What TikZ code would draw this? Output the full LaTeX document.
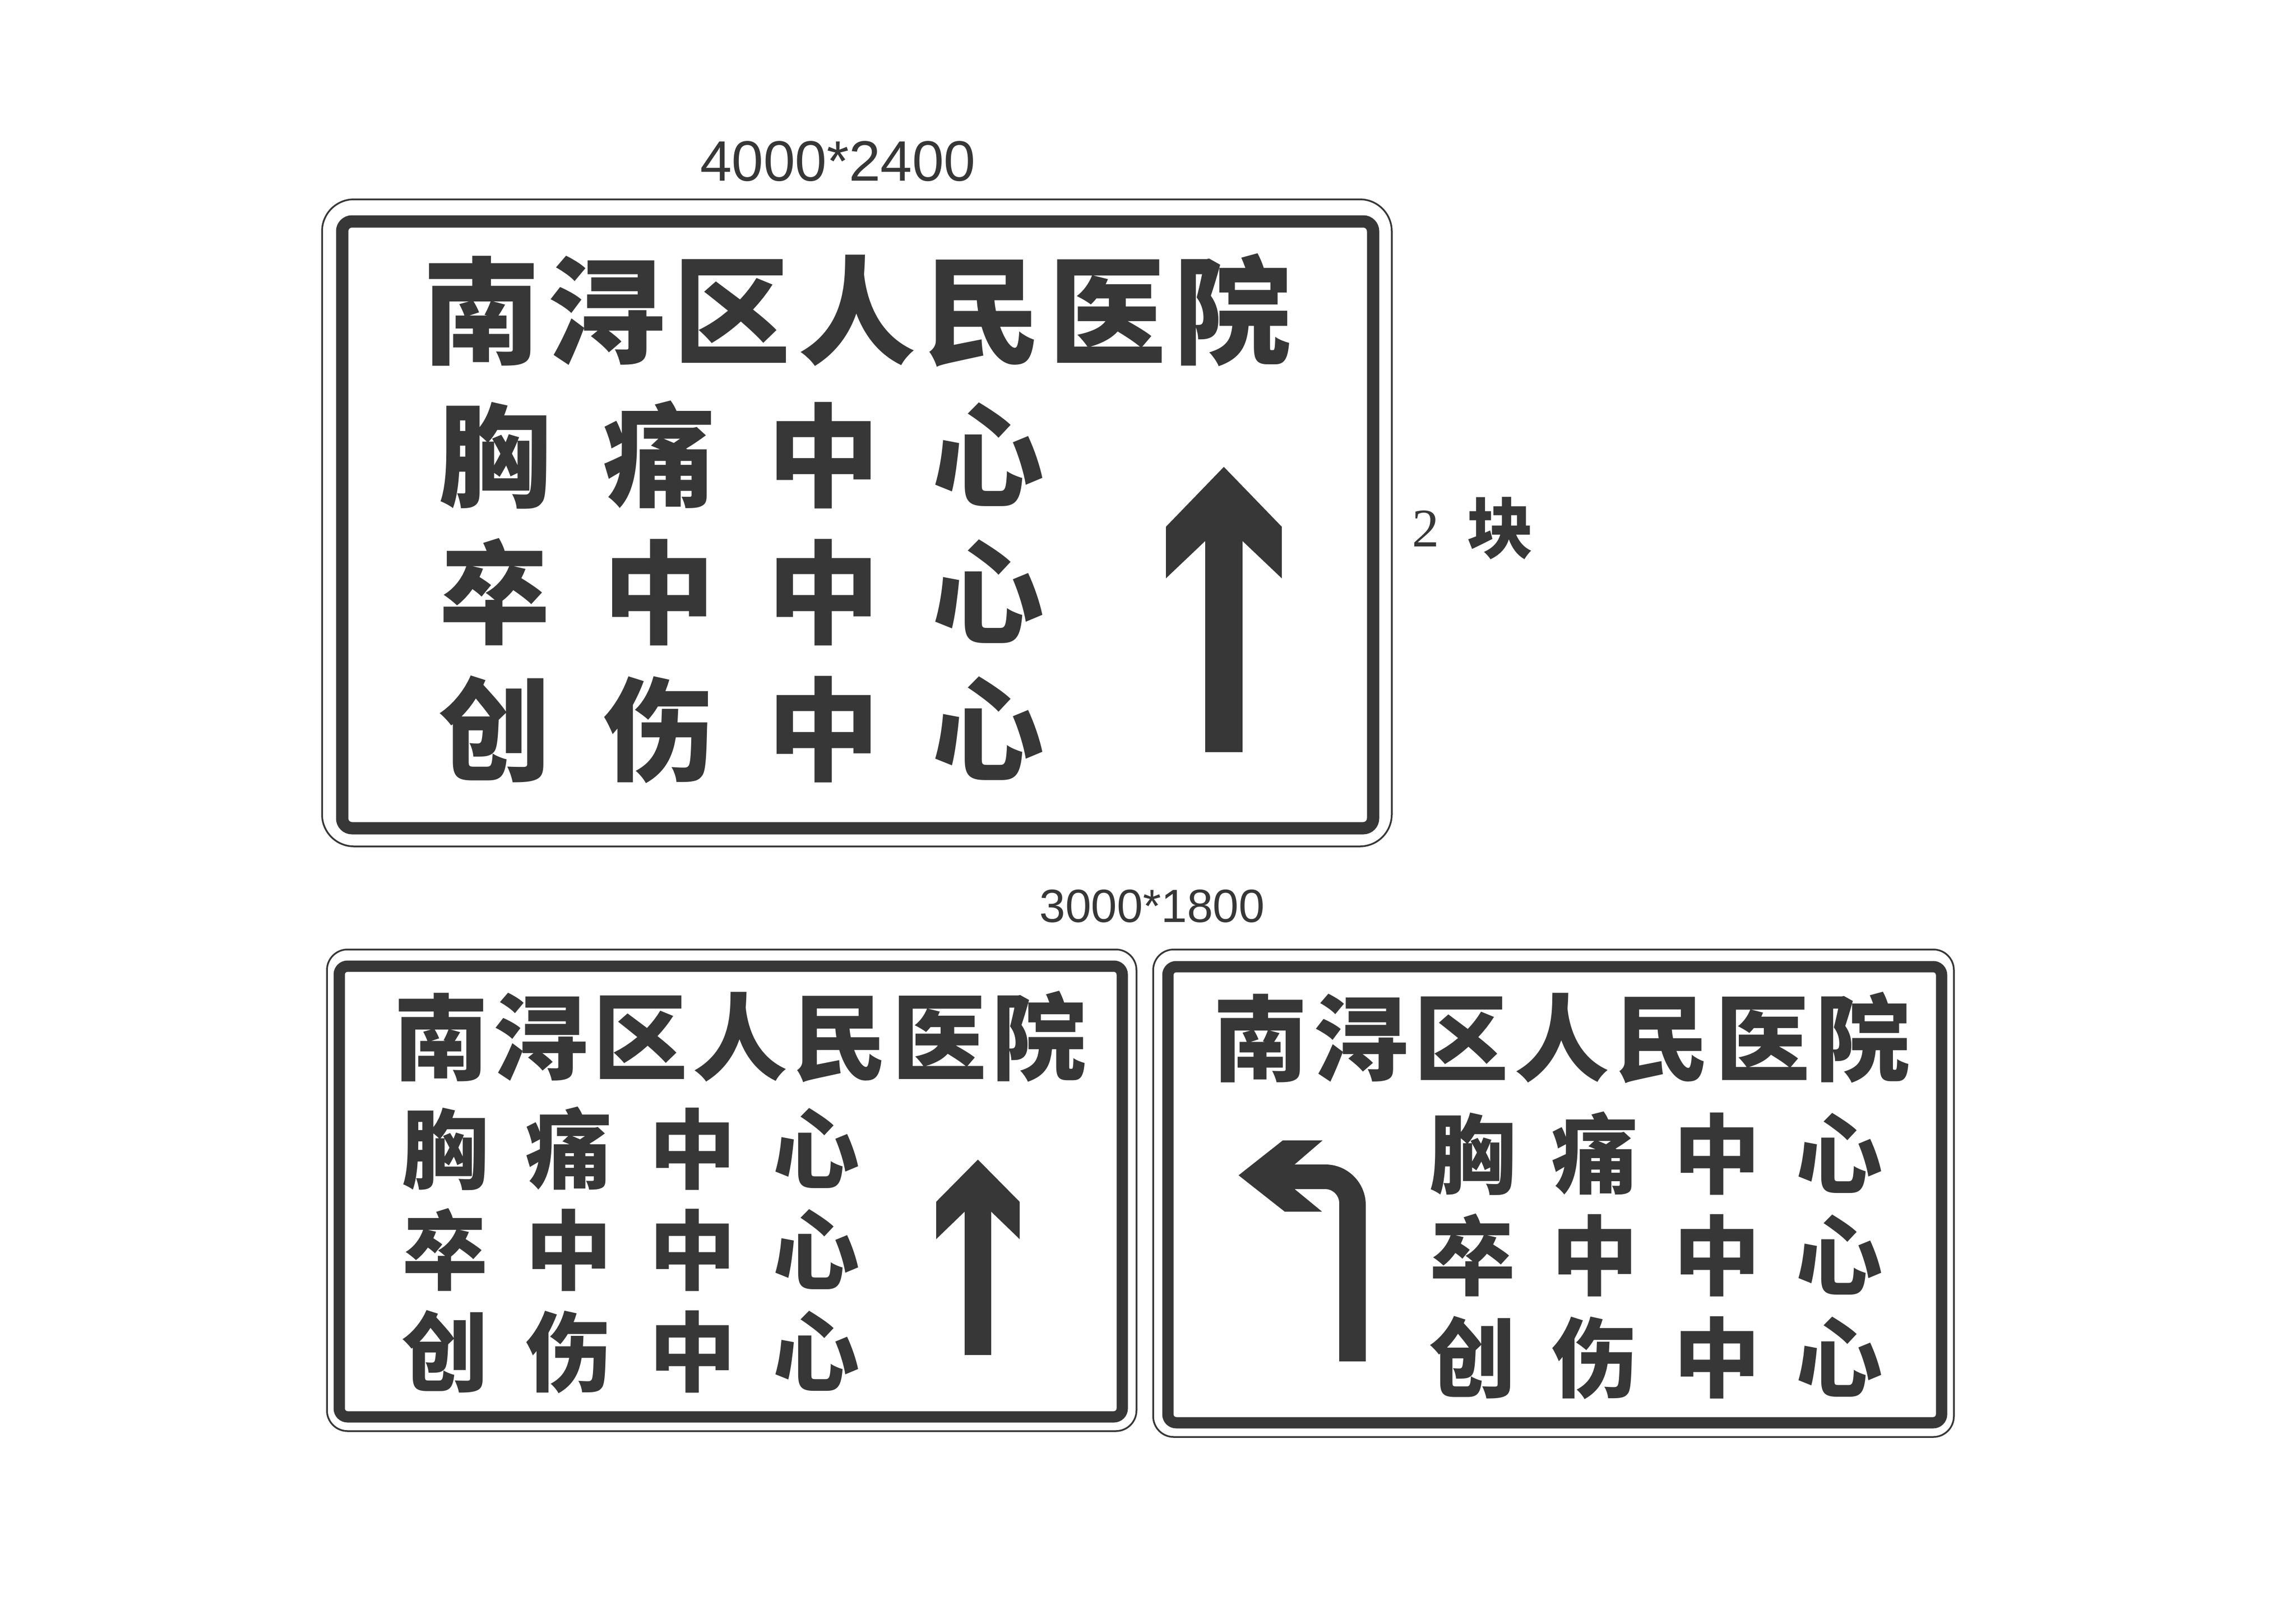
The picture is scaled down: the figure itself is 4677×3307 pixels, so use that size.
\documentclass[tikz,border=0pt]{standalone}
\usepackage{fontspec}
\newfontfamily\hei{Noto Sans CJK SC}
\newfontfamily\arialf{Liberation Sans}
\newfontfamily\timesf{Liberation Serif}
\newcommand{\myfs}[1]{\fontsize{#1}{#1}\selectfont}
\definecolor{ink}{RGB}{55,55,55}
\tikzset{
  frameline/.style={draw=ink, line width=0.35mm},
  thickframe/.style={draw=ink, line width=2.5mm},
  thickframeb/.style={draw=ink, line width=2.3mm},
  glyph/.style={inner sep=0pt, anchor=base, text=ink},
  arrowfill/.style={fill=ink, draw=none},
}
\begin{document}
\begin{tikzpicture}[x=0.1mm,y=-0.1mm]
\useasboundingbox (0,0) rectangle (4677,3307);
\fill[white] (0,0) rectangle (4677,3307);

% ---------- labels ----------
\node[glyph] (lab1) at (1707,368) {\arialf\myfs{33pt}4000*2400};
\node[glyph] (lab2) at (2347,1878) {\arialf\myfs{27pt}3000*1800};
\node[glyph] (cnt2) at (2904,1113) {\timesf\myfs{31.5pt}2};
\node[glyph] (cntk) at (3056,1126) {\hei\bfseries\myfs{38.4pt}块};

% ---------- sign 1 ----------
\draw[frameline, rounded corners=6.5mm] (656,406) rectangle (2835,1724);
\draw[thickframe, rounded corners=2mm] (697,451) rectangle (2797,1687);
\foreach \c [count=\i] in {南,浔,区,人,民,医,院}
  \node[glyph] (sa\i) at ({981+255*(\i-1)},723) {\hei\bfseries\myfs{68pt}\c};
\foreach \row [count=\r] in {{胸,痛,中,心},{卒,中,中,心},{创,伤,中,心}}
  \foreach \c [count=\k] in \row
    \node[glyph] (sar\r\k) at ({1008+335*(\k-1)},{1014+279*(\r-1)}) {\hei\bfseries\myfs{65pt}\c};
\fill[arrowfill] (2493,951) -- (2611,1073) -- (2611,1178) -- (2531,1102) -- (2531,1532)
  -- (2455,1532) -- (2455,1102) -- (2375,1178) -- (2375,1073) -- cycle;

% ---------- sign 2 ----------
\draw[frameline, rounded corners=4.2mm] (666,1934) rectangle (2315,2915);
\draw[thickframeb, rounded corners=1.7mm] (691,1968) rectangle (2286,2886);
\foreach \c [count=\i] in {南,浔,区,人,民,医,院}
  \node[glyph] (sb\i) at ({899+203*(\i-1)},2185) {\hei\bfseries\myfs{54.8pt}\c};
\foreach \row [count=\r] in {{胸,痛,中,心},{卒,中,中,心},{创,伤,中,心}}
  \foreach \c [count=\k] in \row
    \node[glyph] (sbr\r\k) at ({907+252*(\k-1)},{2407+206.5*(\r-1)}) {\hei\bfseries\myfs{50.2pt}\c};
\fill[arrowfill] (1992,2362) -- (2077,2448) -- (2077,2524) -- (2019,2468) -- (2019,2760)
  -- (1965,2760) -- (1965,2468) -- (1907,2524) -- (1907,2448) -- cycle;

% ---------- sign 3 ----------
\draw[frameline, rounded corners=4.2mm] (2349,1934) rectangle (3980,2927);
\draw[thickframeb, rounded corners=1.7mm] (2379,1969) rectangle (3955,2898);
\foreach \c [count=\i] in {南,浔,区,人,民,医,院}
  \node[glyph] (sc\i) at ({2568+204.5*(\i-1)},2187) {\hei\bfseries\myfs{54.8pt}\c};
\foreach \row [count=\r] in {{胸,痛,中,心},{卒,中,中,心},{创,伤,中,心}}
  \foreach \c [count=\k] in \row
    \node[glyph] (scr\r\k) at ({3000+249*(\k-1)},{2417+207.5*(\r-1)}) {\hei\bfseries\myfs{50.2pt}\c};
\fill[arrowfill] (2523,2394) -- (2613,2323) -- (2694,2323) -- (2637,2372) -- (2700,2372)
  .. controls (2745,2372) and (2782,2409) .. (2782,2454) -- (2782,2773) -- (2728,2773)
  -- (2728,2450) .. controls (2728,2435) and (2715,2422) .. (2700,2422) -- (2637,2422)
  -- (2693,2468) -- (2617,2468) -- cycle;
\end{tikzpicture}
\end{document}
